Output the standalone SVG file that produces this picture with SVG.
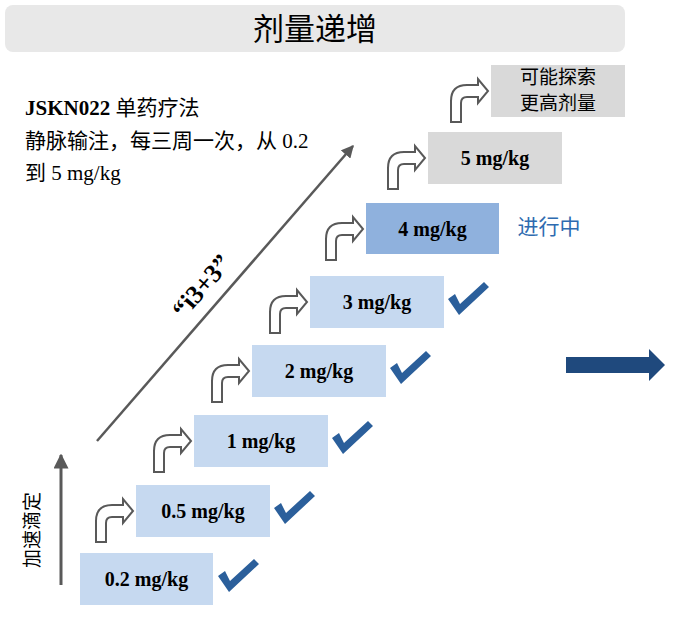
<svg xmlns="http://www.w3.org/2000/svg" width="686" height="624" viewBox="0 0 686 624">
<defs>
<style>
.box{stroke:none}
.lt{fill:#c6d9f0}
.mid{fill:#8fb1dd}
.gr{fill:#d9d9d9}
.lbl{font-family:"Liberation Serif","Noto Sans CJK SC",serif;font-weight:bold;font-size:20px;fill:#000;text-anchor:middle}
.bend{fill:#fff;stroke:#595959;stroke-width:2;stroke-linejoin:miter}
.chk{fill:#2b5f9b}
.cjk{font-family:"Noto Sans CJK SC","Liberation Sans",sans-serif}
.ser{font-family:"Liberation Serif","Noto Sans CJK SC",serif}
</style>
<path id="bent" class="bend" d="M-40,57 L-40,36 Q-40,20 -24,20 L-13,20 L-13,14 L-3,26 L-13,38 L-13,32 L-24,32 Q-30,32 -30,38 L-30,57 Z"/>
<polygon id="check" class="chk" points="138,23 145,18 150,28 174,6 179,11 149,39"/>
<marker id="ah" viewBox="0 0 10 10" refX="9" refY="5" markerWidth="5" markerHeight="5" orient="auto" markerUnits="strokeWidth"><path d="M0,0 L10,5 L0,10 Z" fill="#595959"/></marker>
</defs>

<g id="title">
<rect x="5" y="5" width="620" height="47" rx="8" fill="#e8e8e8"/>
<text x="315" y="40" class="cjk" font-size="31" text-anchor="middle" fill="#000">剂量递增</text>
</g>

<g id="desc" class="ser" font-size="21" fill="#000">
<text x="25" y="115"><tspan font-weight="bold">JSKN022</tspan> 单药疗法</text>
<text x="25" y="148">静脉输注，每三周一次，从 0.2</text>
<text x="25" y="180">到 5 mg/kg</text>
</g>

<g id="connectors">
<line x1="97" y1="441" x2="353" y2="146" stroke="#595959" stroke-width="2.5" marker-end="url(#ah)"/>
<line x1="61" y1="585" x2="61" y2="455" stroke="#595959" stroke-width="3" marker-end="url(#ah)"/>
<use href="#bent" x="136" y="485"/>
<use href="#bent" x="194" y="415"/>
<use href="#bent" x="252" y="345"/>
<use href="#bent" x="310" y="276"/>
<use href="#bent" x="366" y="203"/>
<use href="#bent" x="428" y="132"/>
<use href="#bent" x="491" y="65"/>
<polygon points="566,357 649,357 649,349 665,365 649,381 649,373 566,373" fill="#1f497d"/>
</g>

<text id="axis-label" class="cjk" font-size="19" fill="#000" text-anchor="middle" transform="translate(39,530) rotate(-90)">加速滴定</text>
<text id="i3p3" class="ser" font-size="26" font-weight="bold" fill="#000" text-anchor="middle" transform="translate(208,292) rotate(-49)">“i3+3”</text>

<g id="n02"><rect class="box lt" x="80" y="553" width="133" height="52"/><text class="lbl" x="146.5" y="586">0.2 mg/kg</text><use href="#check" x="80" y="553"/></g>
<g id="n05"><rect class="box lt" x="136" y="485" width="134" height="52"/><text class="lbl" x="203" y="518">0.5 mg/kg</text><use href="#check" x="136" y="485"/></g>
<g id="n1"><rect class="box lt" x="194" y="415" width="134" height="52"/><text class="lbl" x="261" y="448">1 mg/kg</text><use href="#check" x="194" y="415"/></g>
<g id="n2"><rect class="box lt" x="252" y="345" width="134" height="52"/><text class="lbl" x="319" y="378">2 mg/kg</text><use href="#check" x="252" y="345"/></g>
<g id="n3"><rect class="box lt" x="310" y="276" width="134" height="52"/><text class="lbl" x="377" y="309">3 mg/kg</text><use href="#check" x="310" y="276"/></g>
<g id="n4"><rect class="box mid" x="366" y="203" width="133" height="51"/><text class="lbl" x="432.5" y="236">4 mg/kg</text><text class="cjk" x="549" y="234" font-size="21" fill="#2e6bb0" text-anchor="middle">进行中</text></g>
<g id="n5"><rect class="box gr" x="428" y="132" width="134" height="52"/><text class="lbl" x="495" y="165">5 mg/kg</text></g>
<g id="ntop"><rect class="box gr" x="491" y="65" width="134" height="52"/><text class="cjk" font-size="19" text-anchor="middle" fill="#000"><tspan x="558" y="84">可能探索</tspan><tspan x="558" y="110">更高剂量</tspan></text></g>
</svg>
